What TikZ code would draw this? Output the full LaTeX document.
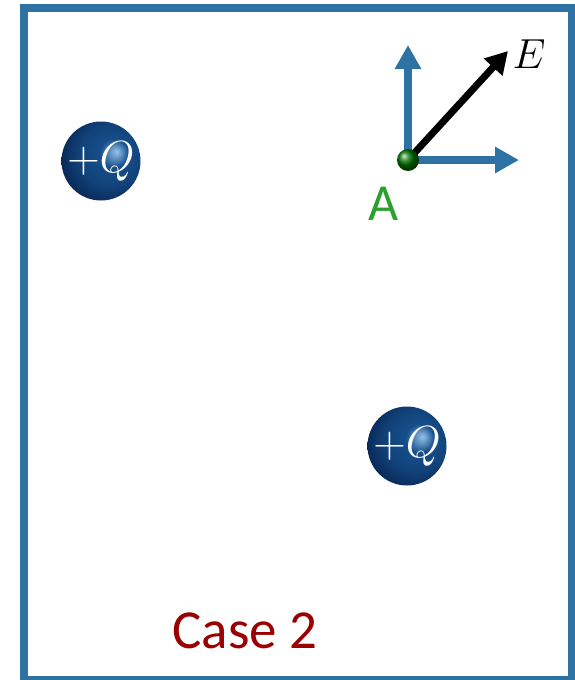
\RequirePackage{fix-cm}
\documentclass[tikz,border=0pt]{standalone}
\usepackage{fontspec}
\usepackage{xcolor}
\usetikzlibrary{arrows.meta}
\newfontfamily\labelfont{Carlito}
\definecolor{frameblue}{RGB}{46,113,163}
\definecolor{qdark}{RGB}{6,36,80}
\definecolor{qmid}{RGB}{22,78,138}
\definecolor{qhigh}{RGB}{150,195,235}
\definecolor{ptgreen}{RGB}{44,160,44}
\definecolor{casered}{RGB}{155,0,0}
\pgfdeclareradialshading{chargeshade}{\pgfpoint{10bp}{6bp}}{color(0bp)=(qhigh);color(9bp)=(qmid);color(20bp)=(qmid!70!qdark);color(32bp)=(qdark);color(50bp)=(qdark)}

\begin{document}
\begin{tikzpicture}[x=1pt,y=-1pt,
  fieldarrow/.style={frameblue,line width=8pt,-{Triangle[length=24pt,width=25pt]}},
  charge/.style={circle,minimum size=79pt,inner sep=0pt,shading=chargeshade,
    label={[text=white,font=\fontsize{45}{45}\selectfont]center:$+Q$}}]
  \useasboundingbox(0,0)rectangle(574,680);
  \draw[frameblue,line width=8pt](24,8)rectangle(572,680);
  \node[charge](q1)at(101,161){};
  \node[charge](q2)at(407,446){};
  \coordinate(A)at(408,160);
  \coordinate(up)at(408,45);
  \coordinate(rt)at(519,160);
  \coordinate(tipE)at(508,51);
  \draw[fieldarrow](A)--(up);
  \draw[fieldarrow](A)--(rt);
  \draw[line width=7pt,-{Triangle[length=22pt,width=24pt]}](A)--(tipE);
  \shade[ball color=green!45!black](A)circle(11);
  \node[anchor=base,font=\fontsize{42}{42}\selectfont](labE)at(529,68){$E$};
  \node[anchor=base,text=ptgreen,font=\labelfont\fontsize{52}{52}\selectfont](labA)at(384,220){A};
  \node[anchor=base,text=casered,font=\labelfont\fontsize{55}{55}\selectfont](caselab)at(245,648){Case 2};
\end{tikzpicture}
\end{document}
